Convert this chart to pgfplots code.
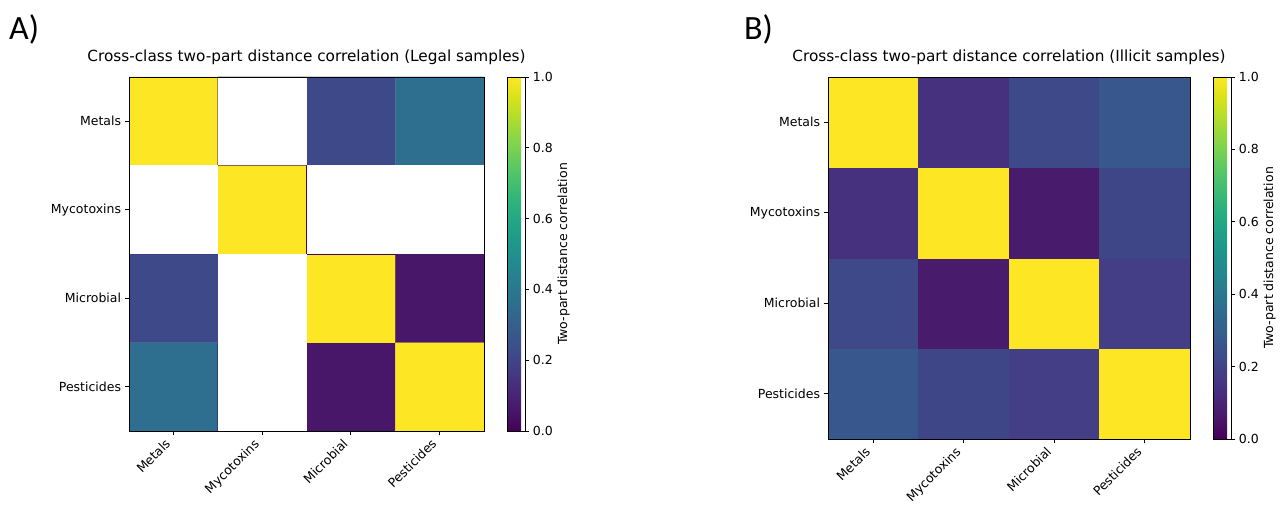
\documentclass[border=0pt]{standalone}
\usepackage{pgfplots}
\pgfplotsset{compat=1.18}
\usepackage{fontspec}
\setmainfont{DejaVu Sans}
\newfontfamily\carlito{Carlito}

\pgfplotstableread{
x y c
0 0 0.36
1 0 0
2 0 0.06
3 0 1
0 1 0.22
1 1 0
2 1 1
3 1 0.06
0 2 0
1 2 1
2 2 0
3 2 0
0 3 1
1 3 0
2 3 0.22
3 3 0.36
}\legaltable

\pgfplotstableread{
x y c
0 0 0.27
1 0 0.21
2 0 0.18
3 0 1
0 1 0.22
1 1 0.07
2 1 1
3 1 0.18
0 2 0.14
1 2 1
2 2 0.07
3 2 0.21
0 3 1
1 3 0.14
2 3 0.22
3 3 0.27
}\illicittable

\pgfplotsset{
  /pgf/number format/assume math mode=true,
  hm/.style={
    scale only axis,
    xmin=-0.5,xmax=3.5,ymin=-0.5,ymax=3.5,
    xtick={0,1,2,3}, ytick={0,1,2,3},
    xticklabels={Metals,Mycotoxins,Microbial,Pesticides},
    yticklabels={Pesticides,Microbial,Mycotoxins,Metals},
    xtick pos=bottom, ytick pos=left,
    xticklabel style={xshift=-9pt, yshift=-1pt, rotate=45, anchor=north east, inner sep=1pt, font=\fontsize{12.5}{15}\selectfont},
    yticklabel style={font=\fontsize{12.5}{15}\selectfont},
    tick align=outside,
    major tick length=4.4pt,
    tick style={black, line width=0.8pt},
    axis line style={black, line width=0.8pt},
    colormap/viridis,
    point meta min=0, point meta max=1,
    axis on top,
    title style={font=\fontsize{15.3}{18}\selectfont, at={(0.5,1)}, anchor=base, yshift=9pt},
    colorbar,
    colorbar shift/.style={xshift=23pt},
  },
  cb/.style={
    colorbar style={
      scale only axis,
      width=18pt,
      height=#1,
      at={(parent axis.north east)}, anchor=north west,
      ytick={0,0.2,0.4,0.6,0.8,1},
      ytick pos=right,
      yticklabel pos=right,
      yticklabel style={/pgf/number format/.cd, fixed, fixed zerofill, precision=1, assume math mode=true, /tikz/.cd, font=\fontsize{12.5}{15}\selectfont},
      ylabel={Two-part distance correlation},
      ylabel style={font=\fontsize{12.5}{15}\selectfont},
      ylabel shift=-2pt,
      tick align=outside, major tick length=4.4pt,
      tick style={black, line width=0.8pt},
      axis line style={black, line width=0.8pt},
    }
  }
}

\begin{document}
\begin{tikzpicture}
\path[use as bounding box] (0,0) rectangle (1284pt,508pt);

\node[anchor=base west, font=\carlito\fontsize{34}{34}\selectfont, inner sep=0pt] at (9pt,468pt) {A)};
\node[anchor=base west, font=\carlito\fontsize{34}{34}\selectfont, inner sep=0pt] at (744pt,468pt) {B)};

\begin{axis}[hm, cb=354pt,
  at={(129pt,77pt)}, anchor=south west, width=355pt, height=354pt,
  title={Cross-class two-part distance correlation (Legal samples)}]
\addplot[matrix plot*, mesh/cols=4, point meta=explicit] table[x=x, y=y, meta=c] {\legaltable};
\addplot[fill=white, draw=none] coordinates {(-0.5,1.5) (0.5,1.5) (0.5,2.5) (-0.5,2.5)} -- cycle;
\addplot[fill=white, draw=none] coordinates {(1.5,1.5) (3.5,1.5) (3.5,2.5) (1.5,2.5)} -- cycle;
\addplot[fill=white, draw=none] coordinates {(0.5,-0.5) (1.5,-0.5) (1.5,1.5) (0.5,1.5)} -- cycle;
\addplot[fill=white, draw=none] coordinates {(0.5,2.5) (1.5,2.5) (1.5,3.5) (0.5,3.5)} -- cycle;
\end{axis}

\begin{axis}[hm, cb=362pt,
  at={(828pt,69pt)}, anchor=south west, width=362pt, height=362pt,
  title={Cross-class two-part distance correlation (Illicit samples)}]
\addplot[matrix plot*, mesh/cols=4, point meta=explicit] table[x=x, y=y, meta=c] {\illicittable};
\end{axis}
\end{tikzpicture}
\end{document}
